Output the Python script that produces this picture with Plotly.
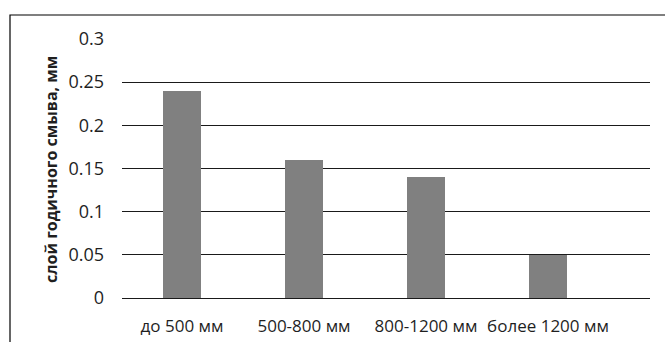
import plotly.graph_objects as go

# Annual erosion layer by precipitation class
categories = ["до 500 мм", "500-800 мм", "800-1200 мм", "более 1200 мм"]
values = [0.24, 0.16, 0.14, 0.05]
y_ticks = [0, 0.05, 0.1, 0.15, 0.2, 0.25, 0.3]
y_tick_text = ["0", "0.05", "0.1", "0.15", "0.2", "0.25", "0.3"]
y_title = "слой годичного смыва, мм"

W, H = 665, 342
ML, MR, MT, MB = 122, 15, 39, 44
plot_w = W - ML - MR
plot_h = H - MT - MB

FONT = "'Open Sans', sans-serif"
TEXT = "#1f1f1f"

fig = go.Figure(
    go.Bar(
        x=list(range(len(categories))),
        y=values,
        width=0.31,
        marker=dict(color="#808080", line=dict(width=0)),
        hoverinfo="skip",
    )
)

# outer frame of the chart area (top and left edges visible)
fx0 = (10 - ML) / plot_w
fy1 = (H - MB - 15) / plot_h
fig.add_shape(
    type="path",
    xref="paper", yref="paper",
    path=f"M {fx0} -0.5 L {fx0} {fy1} L 1.2 {fy1}",
    line=dict(color="#000000", width=1.2),
)

# rotated axis title placed by pixel offset from the plot's left edge
fig.add_annotation(
    xref="paper", yref="paper",
    x=(51 - ML) / plot_w, y=(H - MB - 170) / plot_h,
    text=f"<b>{y_title}</b>",
    textangle=-90,
    showarrow=False,
    xanchor="center", yanchor="middle",
    font=dict(family=FONT, size=16, color=TEXT),
)

fig.update_layout(
    width=W, height=H,
    margin=dict(l=ML, r=MR, t=MT, b=MB, pad=0, autoexpand=False),
    paper_bgcolor="white",
    plot_bgcolor="white",
    showlegend=False,
    font=dict(family=FONT, size=17, color=TEXT),
    bargap=0,
)

fig.update_xaxes(
    range=[-0.492, 3.836],
    tickmode="array",
    tickvals=list(range(len(categories))),
    ticktext=categories,
    showgrid=False,
    zeroline=False,
    showline=False,
    ticks="",
    ticklabelstandoff=16,
    automargin=False,
    tickfont=dict(family=FONT, size=17, color=TEXT),
)

fig.update_yaxes(
    range=[0, 0.3],
    tickmode="array",
    tickvals=y_ticks,
    ticktext=y_tick_text,
    showgrid=True,
    gridcolor="#1a1a1a",
    gridwidth=1,
    zeroline=True,
    zerolinecolor="#1a1a1a",
    zerolinewidth=1,
    showline=False,
    ticks="",
    ticklabelstandoff=17,
    automargin=False,
    tickfont=dict(family=FONT, size=18, color=TEXT),
)

fig.write_html("out.html")
